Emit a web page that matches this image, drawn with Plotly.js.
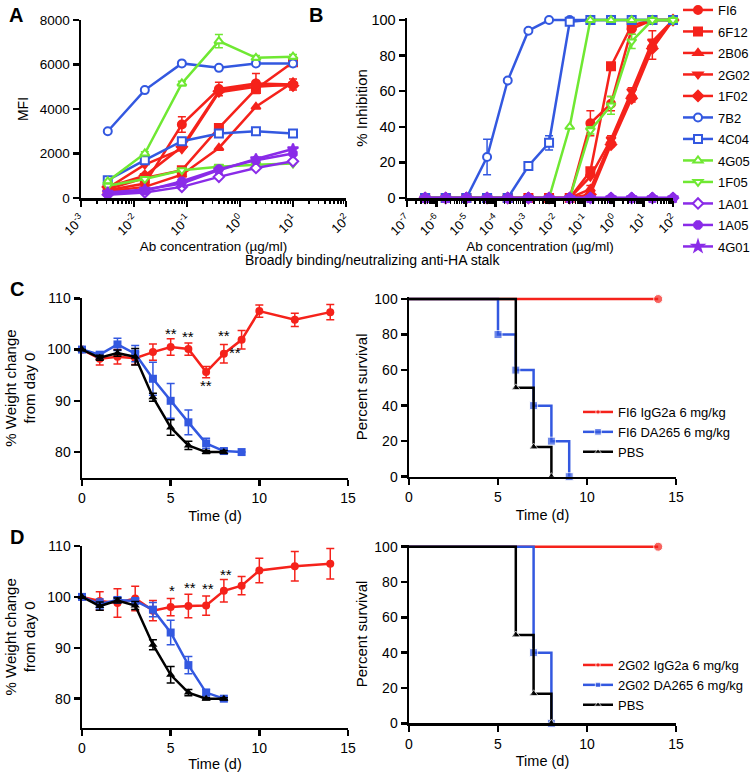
<!DOCTYPE html>
<html><head><meta charset="utf-8">
<script src="https://cdn.plot.ly/plotly-3.0.1.min.js"></script>
<style>body{margin:0;padding:0;background:#fff}#plot{width:751px;height:772px}</style>
</head><body><div id="plot"></div>
<script>
// ---------- Panel A : binding (MFI) ----------
const A_conc = [0.0032, 0.016, 0.08, 0.4, 2, 10];
const A_FI6  = [350, 650, 3300, 4900, 5150, 5100];
const A_FI6_err = [50, 80, 350, 300, 450, 250];
const A_6F12 = [400, 900, 1250, 3150, 4900, 6100];
const A_2B06 = [300, 500, 1050, 2250, 4100, 5200];
const A_2G02 = [450, 1500, 2200, 4750, 5000, 5100];
const A_1F02 = [500, 1000, 2300, 4800, 5100, 5050];
const A_7B2  = [3000, 4850, 6050, 5850, 6050, 6050];
const A_4C04 = [800, 1700, 2550, 2900, 3000, 2900];
const A_4G05 = [750, 2000, 5150, 7050, 6300, 6350];
const A_4G05_err = [40, 80, 100, 300, 100, 100];
const A_1F05 = [550, 850, 1250, 1400, 1500, 1550];
const A_1A01 = [150, 250, 500, 950, 1350, 1650];
const A_1A05 = [200, 320, 750, 1300, 1700, 2000];
const A_4G01 = [250, 380, 650, 1250, 1750, 2200];

// ---------- Panel B : neutralization (% inhibition) ----------
const B_conc = [4.1e-7, 2.05e-6, 1.02e-5, 5.12e-5, 2.56e-4, 1.28e-3, 6.4e-3, 0.032, 0.16, 0.8, 4, 20, 100];
const B_FI6  = [0,0,0,0,0,0,0,0, 42, 53, 95, 100, 100];
const B_FI6_err = [0,0,0,0,0,0,0,0, 7, 4, 3, 0, 0];
const B_6F12 = [0,0,0,0,0,0,0,0, 15, 74, 97, 100, 100];
const B_2B06 = [0,0,0,0,0,0,0,0, 5, 32, 58, 86, 100];
const B_2B06_err = [0,0,0,0,0,0,0,0, 2, 3, 4, 8, 0];
const B_2G02 = [0,0,0,0,0,0,0,0, 12, 33, 60, 88, 100];
const B_1F02 = [0,0,0,0,0,0,0,0, 2, 30, 56, 84, 100];
const B_7B2  = [0,0,0,23,66,94,100,100,100,100,100,100,100];
const B_7B2_err = [0,0,0,10,0,0,0,0,0,0,0,0,0];
const B_4C04 = [0,0,0,0,0,18,31,99,100,100,100,100,100];
const B_4C04_err = [0,0,0,0,0,2,4,0,0,0,0,0,0];
const B_4G05 = [0,0,0,0,0,0,0,40,100,100,100,100,100];
const B_1F05 = [0,0,0,0,0,0,0,0,38,52,88,100,100];
const B_1F05_err = [0,0,0,0,0,0,0,0,2,5,4,0,0];
const B_1A01 = [0,0,0,0,0,0,0,0,0,0,0,0,0];
const B_1A05 = [0,0,0,0,0,0,0,0,0,0,0,0,0];
const B_4G01 = [0,0,0,0,0,0,0,0,0,0,0,0,0];

const logTickVals = [1e-7,1e-6,1e-5,1e-4,1e-3,1e-2,1e-1,1,10,100];
const logTickText = ['10<sup>-7</sup>','10<sup>-6</sup>','10<sup>-5</sup>','10<sup>-4</sup>','10<sup>-3</sup>','10<sup>-2</sup>','10<sup>-1</sup>','10<sup>0</sup>','10<sup>1</sup>','10<sup>2</sup>'];

// ---------- Panel C : FI6 ----------
const C_t_red = [0,1,2,3,4,5,6,7,8,9,10,12,14];
const C_red = [100, 98.2, 98.6, 98.3, 99.5, 100.5, 100.1, 95.6, 99.2, 101.9, 107.5, 105.8, 107.3];
const C_red_err = [0, 1.2, 1.4, 1.2, 1.6, 1.6, 1.2, 1.1, 1.8, 1.8, 1.2, 1.3, 1.5];
const C_t_blue = [0,1,2,3,4,5,6,7,8,9];
const C_blue = [100, 99.0, 101.0, 99.2, 94.3, 90.0, 85.8, 81.7, 80.2, 80.0];
const C_blue_err = [0, 0.5, 1.2, 1.6, 3.2, 3.4, 2.4, 1.0, 0.5, 0];
const C_t_black = [0,1,2,3,4,5,6,7,8];
const C_black = [100, 98.4, 99.3, 98.6, 90.7, 84.8, 81.3, 80.0, 80.0];
const C_black_err = [0, 0.5, 0.6, 1.6, 0.8, 1.5, 0.8, 0.3, 0.3];
const C_surv_t_red = [0, 14],  C_surv_red = [100, 100];
const C_surv_t_blue = [0,5,6,7,8,9], C_surv_blue = [100,80,60,40,20,0];
const C_surv_t_black = [0,6,7,8], C_surv_black = [100,50,16.7,0];
const C_names = ['FI6 IgG2a 6 mg/kg','FI6 DA265 6 mg/kg','PBS'];
const C_star_x = [5, 6, 7, 8, 8.62], C_star_y = [103.2, 102.6, 93.0, 102.8, 99.4], C_star_txt = ['**','**','**','**','**'];

// ---------- Panel D : 2G02 ----------
const D_t_red = [0,1,2,3,4,5,6,7,8,9,10,12,14];
const D_red = [100, 99.2, 98.8, 99.7, 97.3, 98.0, 98.2, 98.3, 101.2, 102.2, 105.2, 106.0, 106.5];
const D_red_err = [0, 1.8, 2.8, 2.4, 2.0, 1.7, 2.3, 1.9, 2.2, 1.8, 2.4, 2.9, 3.0];
const D_t_blue = [0,1,2,3,4,5,6,7,8];
const D_blue = [100, 98.6, 99.4, 99.2, 97.5, 93.0, 86.6, 81.2, 80.0];
const D_blue_err = [0, 1.0, 0.5, 0.5, 1.4, 2.4, 1.7, 0.6, 0.3];
const D_t_black = [0,1,2,3,4,5,6,7,8];
const D_black = [100, 98.2, 99.3, 98.3, 90.6, 84.7, 81.2, 80.0, 80.0];
const D_black_err = [0, 0.8, 0.5, 0.8, 1.0, 1.6, 0.6, 0.2, 0.2];
const D_surv_t_red = [0, 14], D_surv_red = [100, 100];
const D_surv_t_blue = [0,7,8], D_surv_blue = [100,40,0];
const D_surv_t_black = [0,6,7,8], D_surv_black = [100,50,16.7,0];
const D_names = ['2G02 IgG2a 6 mg/kg','2G02 DA265 6 mg/kg','PBS'];
const D_star_x = [5.1, 6.1, 7.1, 8.1], D_star_y = [101.2, 101.8, 101.6, 104.4], D_star_txt = ['*','**','**','**'];

// ---------- styling ----------
const RED='#f5221b', BLUE='#3358e0', GREEN='#6fe832', PURPLE='#8a2be8', BLACK='#000000';
const FONT='Liberation Sans, Arial, Helvetica, sans-serif';

const abSpec = [
  {name:'FI6',  a:A_FI6,  b:B_FI6,  c:RED,   s:'circle',        fill:true, aerr:A_FI6_err, berr:B_FI6_err},
  {name:'6F12', a:A_6F12, b:B_6F12, c:RED,   s:'square',        fill:true},
  {name:'2B06', a:A_2B06, b:B_2B06, c:RED,   s:'triangle-up',   fill:true, berr:B_2B06_err},
  {name:'2G02', a:A_2G02, b:B_2G02, c:RED,   s:'triangle-down', fill:true},
  {name:'1F02', a:A_1F02, b:B_1F02, c:RED,   s:'diamond',       fill:true},
  {name:'7B2',  a:A_7B2,  b:B_7B2,  c:BLUE,  s:'circle',        fill:false, berr:B_7B2_err},
  {name:'4C04', a:A_4C04, b:B_4C04, c:BLUE,  s:'square',        fill:false, berr:B_4C04_err},
  {name:'4G05', a:A_4G05, b:B_4G05, c:GREEN, s:'triangle-up',   fill:false, aerr:A_4G05_err},
  {name:'1F05', a:A_1F05, b:B_1F05, c:GREEN, s:'triangle-down', fill:false, berr:B_1F05_err},
  {name:'1A01', a:A_1A01, b:B_1A01, c:PURPLE,s:'diamond',       fill:false},
  {name:'1A05', a:A_1A05, b:B_1A05, c:PURPLE,s:'octagon',       fill:true},
  {name:'4G01', a:A_4G01, b:B_4G01, c:PURPLE,s:'star',          fill:true}
];

const traces = [];
abSpec.forEach(sp => {
  const mk = {symbol:sp.s, size:8, color: sp.fill ? sp.c : '#ffffff', line:{color:sp.c, width:2}};
  const tA = {x:A_conc, y:sp.a, xaxis:'x', yaxis:'y', type:'scatter', mode:'lines+markers', name:sp.name,
    legendgroup:sp.name, line:{color:sp.c, width:2.5}, marker:mk, showlegend:true, cliponaxis:false};
  if (sp.aerr) tA.error_y = {type:'data', array:sp.aerr, visible:true, color:sp.c, thickness:1.5, width:4};
  traces.push(tA);
});
abSpec.forEach(sp => {
  const mk = {symbol:sp.s, size:8, color: sp.fill ? sp.c : '#ffffff', line:{color:sp.c, width:2}};
  const tB = {x:B_conc, y:sp.b, xaxis:'x2', yaxis:'y2', type:'scatter', mode:'lines+markers', name:sp.name,
    legendgroup:sp.name, line:{color:sp.c, width:2.5}, marker:mk, showlegend:false, cliponaxis:false};
  if (sp.berr) tB.error_y = {type:'data', array:sp.berr, visible:true, color:sp.c, thickness:1.5, width:4};
  traces.push(tB);
});

function weight(t, y, err, color, sym, xa, ya) {
  return {x:t, y:y, xaxis:xa, yaxis:ya, type:'scatter', mode:'lines+markers', showlegend:false,
    line:{color:color, width:2.5}, marker:{symbol:sym, size:8, color:color},
    error_y:{type:'data', array:err, visible:true, color:color, thickness:1.5, width:4}, cliponaxis:false};
}
function surv(t, y, color, sym, xa, ya, name, leg, sizes) {
  return {x:t, y:y, xaxis:xa, yaxis:ya, type:'scatter', mode:'lines+markers', name:name, legend:leg,
    line:{color:color, width:2.5, shape:'hv'}, marker:{symbol:sym, size:sizes, color:color}, cliponaxis:false};
}
traces.push(weight(C_t_red, C_red, C_red_err, RED, 'circle', 'x3','y3'));
traces.push(weight(C_t_blue, C_blue, C_blue_err, BLUE, 'square', 'x3','y3'));
traces.push(weight(C_t_black, C_black, C_black_err, BLACK, 'triangle-up', 'x3','y3'));
traces.push(surv(C_surv_t_red, C_surv_red, RED, 'circle', 'x4','y4', C_names[0], 'legend2', [0,9]));
traces.push(surv(C_surv_t_blue, C_surv_blue, BLUE, 'square', 'x4','y4', C_names[1], 'legend2', [0,8,8,8,8,8]));
traces.push(surv(C_surv_t_black, C_surv_black, BLACK, 'triangle-up', 'x4','y4', C_names[2], 'legend2', [0,8,8,8]));

traces.push(weight(D_t_red, D_red, D_red_err, RED, 'circle', 'x5','y5'));
traces.push(weight(D_t_blue, D_blue, D_blue_err, BLUE, 'square', 'x5','y5'));
traces.push(weight(D_t_black, D_black, D_black_err, BLACK, 'triangle-up', 'x5','y5'));
traces.push(surv(D_surv_t_red, D_surv_red, RED, 'circle', 'x6','y6', D_names[0], 'legend3', [0,9]));
traces.push(surv(D_surv_t_blue, D_surv_blue, BLUE, 'square', 'x6','y6', D_names[1], 'legend3', [0,8,8]));
traces.push(surv(D_surv_t_black, D_surv_black, BLACK, 'triangle-up', 'x6','y6', D_names[2], 'legend3', [0,8,8,8]));

const W=751, H=772;
const px = v => v/W, py = v => 1 - v/H;

function baseAxis(extra) {
  return Object.assign({showline:true, linewidth:2.5, linecolor:'black', ticks:'outside', ticklen:6, tickwidth:2.5,
    tickcolor:'black', showgrid:false, zeroline:false, mirror:false, fixedrange:true, automargin:false,
    tickfont:{family:FONT, size:14, color:'black'}}, extra);
}
function minorLog(lo, hi) {
  const v=[]; for (let e=lo; e<hi; e++) for (let m=2; m<=9; m++) v.push(m*Math.pow(10,e)); return v;
}

const layout = {
  width:W, height:H, margin:{l:0,r:0,t:0,b:0,pad:0,autoexpand:false}, paper_bgcolor:'white', plot_bgcolor:'rgba(0,0,0,0)',
  font:{family:FONT, size:14, color:'black'}, showlegend:true,
  xaxis: baseAxis({type:'log', domain:[px(81), px(346)], range:[-3,2], anchor:'y', tickmode:'array',
    tickvals:logTickVals.slice(4), ticktext:logTickText.slice(4), tickangle:-45, tickfont:{family:FONT,size:13},
    minor:{tickmode:'array', tickvals:minorLog(-3,2), ticks:'outside', ticklen:3, tickwidth:1.5, tickcolor:'black'},
    title:{text:'Ab concentration (µg/ml)', font:{family:FONT,size:13.5}, standoff:5}}),
  yaxis: baseAxis({domain:[py(198), py(20)], range:[0,8000], anchor:'x', tickvals:[0,2000,4000,6000,8000],
    tickfont:{family:FONT,size:13.5}, title:{text:'MFI', font:{family:FONT,size:14}, standoff:8}}),
  xaxis2: baseAxis({type:'log', domain:[px(407), px(673)], range:[-7,2], anchor:'y2', tickmode:'array',
    tickvals:logTickVals, ticktext:logTickText, tickangle:-45, tickfont:{family:FONT,size:13},
    minor:{tickmode:'array', tickvals:minorLog(-7,2), ticks:'outside', ticklen:3, tickwidth:1.5, tickcolor:'black'},
    title:{text:'Ab concentration (µg/ml)', font:{family:FONT,size:13.5}, standoff:5}}),
  yaxis2: baseAxis({domain:[py(198), py(17.9)], range:[0,101.2], anchor:'x2', tickvals:[0,20,40,60,80,100],
    tickfont:{family:FONT,size:14.5}, title:{text:'% Inhibition', font:{family:FONT,size:15}, standoff:0}}),
  xaxis3: baseAxis({domain:[px(82), px(348)], range:[0,15], anchor:'y3', tickvals:[0,5,10,15],
    title:{text:'Time (d)', font:{family:FONT,size:14.5}, standoff:6}}),
  yaxis3: baseAxis({domain:[py(477.7), py(298.3)], range:[75,110], anchor:'x3', tickvals:[80,90,100,110],
    title:{text:'% Weight change<br>from day 0', font:{family:FONT,size:15}, standoff:8}}),
  xaxis4: baseAxis({domain:[px(409), px(676)], range:[0,15], anchor:'y4', tickvals:[0,5,10,15],
    title:{text:'Time (d)', font:{family:FONT,size:14.5}, standoff:6}}),
  yaxis4: baseAxis({domain:[py(476.7), py(296.9)], range:[0,101.2], anchor:'x4', tickvals:[0,20,40,60,80,100],
    title:{text:'Percent survival', font:{family:FONT,size:15}, standoff:3}}),
  xaxis5: baseAxis({domain:[px(82), px(348)], range:[0,15], anchor:'y5', tickvals:[0,5,10,15],
    title:{text:'Time (d)', font:{family:FONT,size:14.5}, standoff:6}}),
  yaxis5: baseAxis({domain:[py(727.7), py(546)], range:[74.3,110], anchor:'x5', tickvals:[80,90,100,110],
    title:{text:'% Weight change<br>from day 0', font:{family:FONT,size:15}, standoff:8}}),
  xaxis6: baseAxis({domain:[px(409), px(676)], range:[0,15], anchor:'y6', tickvals:[0,5,10,15],
    title:{text:'Time (d)', font:{family:FONT,size:14.5}, standoff:6}}),
  yaxis6: baseAxis({domain:[py(723.3), py(544.6)], range:[0,101.2], anchor:'x6', tickvals:[0,20,40,60,80,100],
    title:{text:'Percent survival', font:{family:FONT,size:15}, standoff:3}}),
  legend: {x:px(678), y:py(-5), xanchor:'left', yanchor:'top', font:{family:FONT,size:13}, bgcolor:'rgba(0,0,0,0)',
    tracegroupgap:1.6, traceorder:'grouped', itemclick:false, itemdoubleclick:false},
  legend2: {x:px(578), y:py(397), xanchor:'left', yanchor:'top', font:{family:FONT,size:13}, bgcolor:'rgba(0,0,0,0)'},
  legend3: {x:px(578), y:py(650), xanchor:'left', yanchor:'top', font:{family:FONT,size:13}, bgcolor:'rgba(0,0,0,0)'},
  annotations: [
    {text:'<b>A</b>', xref:'paper', yref:'paper', x:px(7), y:py(2), xanchor:'left', yanchor:'top', showarrow:false, font:{family:FONT,size:20}},
    {text:'<b>B</b>', xref:'paper', yref:'paper', x:px(307), y:py(2), xanchor:'left', yanchor:'top', showarrow:false, font:{family:FONT,size:20}},
    {text:'<b>C</b>', xref:'paper', yref:'paper', x:px(8), y:py(276), xanchor:'left', yanchor:'top', showarrow:false, font:{family:FONT,size:20}},
    {text:'<b>D</b>', xref:'paper', yref:'paper', x:px(8), y:py(524), xanchor:'left', yanchor:'top', showarrow:false, font:{family:FONT,size:20}},
    {text:'Broadly binding/neutralizing anti-HA stalk', xref:'paper', yref:'paper', x:px(372), y:py(260), xanchor:'center', yanchor:'middle', showarrow:false, font:{family:FONT,size:14}}
  ]
};
C_star_x.forEach((x,i)=>layout.annotations.push({text:C_star_txt[i], xref:'x3', yref:'y3', x:x, y:C_star_y[i], showarrow:false, font:{family:FONT,size:15}}));
D_star_x.forEach((x,i)=>layout.annotations.push({text:D_star_txt[i], xref:'x5', yref:'y5', x:x, y:D_star_y[i], showarrow:false, font:{family:FONT,size:15}}));

Plotly.newPlot('plot', traces, layout, {staticPlot:true, displayModeBar:false});
</script></body></html>
